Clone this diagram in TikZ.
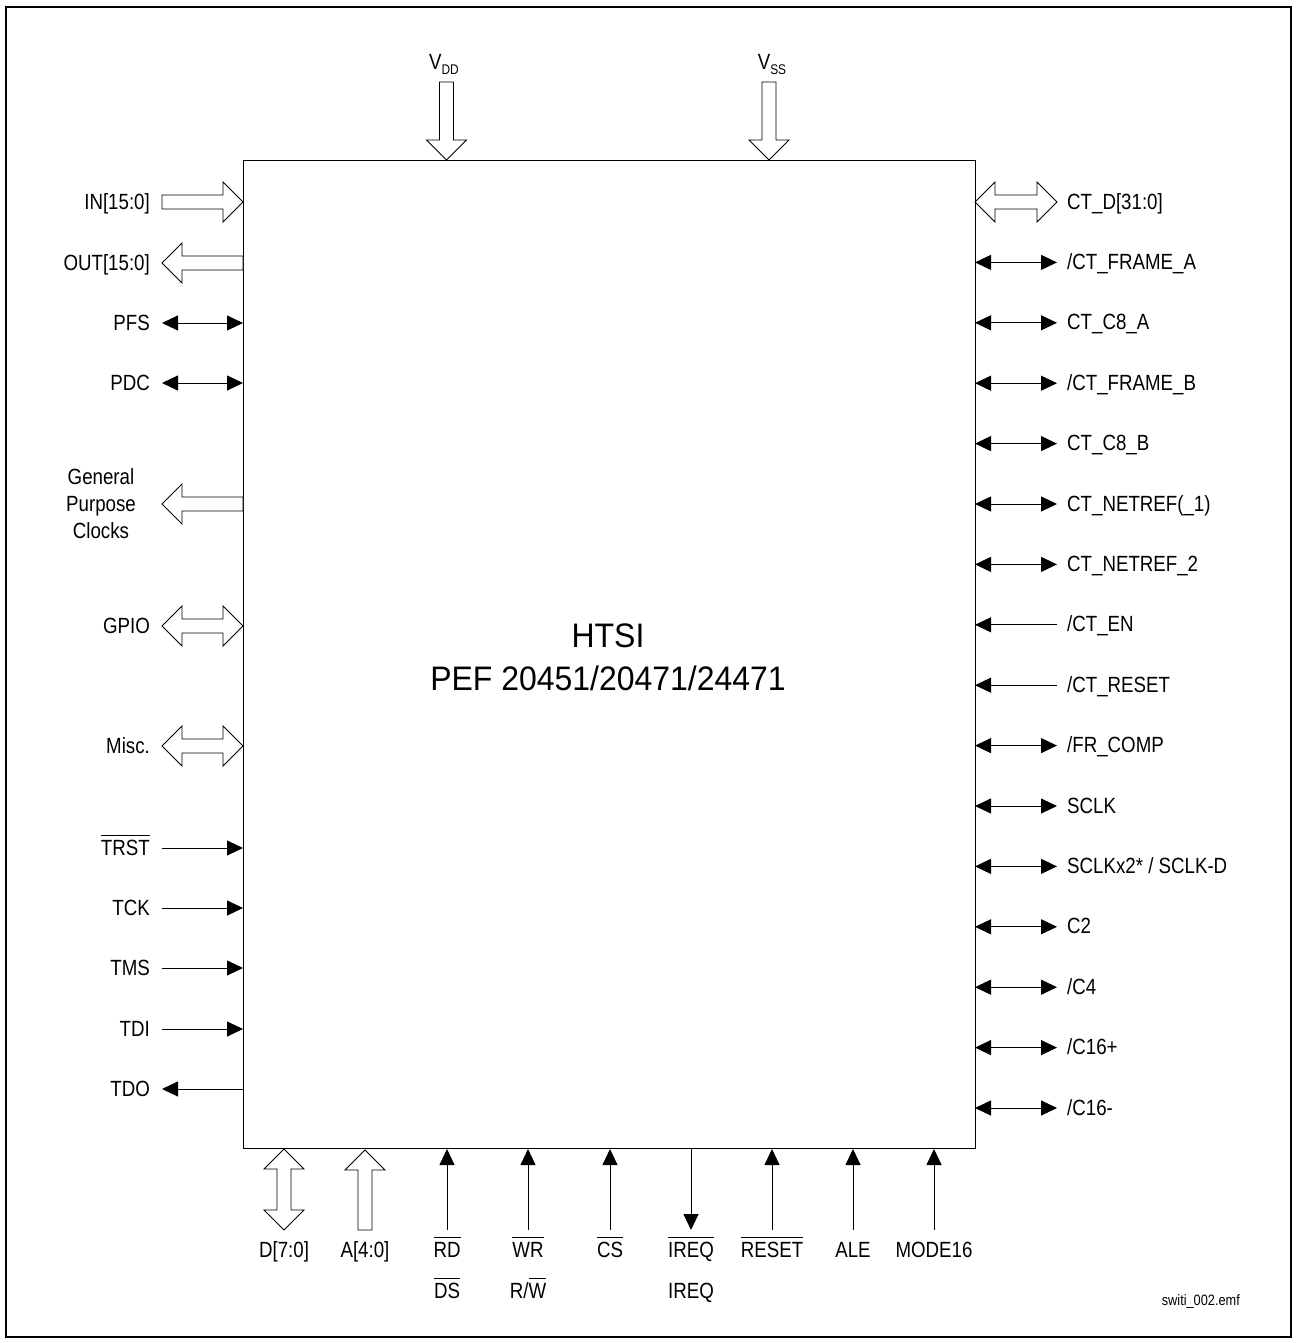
\documentclass[tikz,border=0pt]{standalone}
\usepackage{fontspec}
\setmainfont{Liberation Sans}[FakeStretch=0.85]
\newfontfamily\bigfont{Liberation Sans}[FakeStretch=0.94]
\usetikzlibrary{arrows.meta}
\newcommand\ovl[1]{\vbox{\hrule height 1.1pt\kern 4pt\hbox{#1}}}
\tikzset{
  hollow/.style={draw=black, line width=0.9pt, fill=white, line join=miter},
  pics/hone/.style={code={\draw[hollow] (0,-7) -- (#1-20,-7) -- (#1-20,-20) -- (#1,0) -- (#1-20,20) -- (#1-20,7) -- (0,7) -- cycle;}},
  pics/htwo/.style={code={\draw[hollow] (0,0) -- (20,-20) -- (20,-7) -- (#1-20,-7) -- (#1-20,-20) -- (#1,0) -- (#1-20,20) -- (#1-20,7) -- (20,7) -- (20,20) -- cycle;}},
  sig/.style={line width=0.9pt, -{Triangle[length=16pt,width=15pt]}},
  bidir/.style={line width=0.9pt, {Triangle[length=16pt,width=15pt]}-{Triangle[length=16pt,width=15pt]}},
  lbl/.style={inner sep=0pt, font=\fontsize{22}{27}\selectfont},
  lleft/.style={lbl, anchor=base east},
  lright/.style={lbl, anchor=base west},
  lbot/.style={lbl, anchor=base},
}
\begin{document}
\begin{tikzpicture}[x=1pt, y=-1pt]
\useasboundingbox (0,0) rectangle (1297,1343);
\draw[line width=2.2pt] (6,7) rectangle (1291,1337);

% chip body
\node[draw, line width=0.9pt, inner sep=0pt, minimum width=732pt, minimum height=988pt, anchor=north west] (chip) at (243,160) {};
\node[inner sep=0pt, anchor=base, font=\bigfont\fontsize{34}{40}\selectfont] (t1) at (608,647) {HTSI};
\node[inner sep=0pt, anchor=base, font=\bigfont\fontsize{34}{40}\selectfont] (t2) at (608,690) {PEF 20451/20471/24471};

% top supplies
\pic[rotate=-90] at (446.5,82) {hone=78};
\pic[rotate=-90] at (769,82) {hone=78};
\node[lbl, anchor=base] (vdd) at (444,70) {V\raisebox{-5pt}{\fontsize{14}{14}\selectfont DD}};
\node[lbl, anchor=base] (vss) at (772,70) {V\raisebox{-5pt}{\fontsize{14}{14}\selectfont SS}};

% left side
\pic at (162,202) {hone=81};
\node[lleft] (lin) at (150,209) {IN[15:0]};
\pic[rotate=180] at (243,263) {hone=81};
\node[lleft] (lout) at (150,270) {OUT[15:0]};
\draw[bidir] (162,323) -- (243,323);
\node[lleft] (lpfs) at (150,330) {PFS};
\draw[bidir] (162,383) -- (243,383);
\node[lleft] (lpdc) at (150,390) {PDC};
\pic[rotate=180] at (243,504) {hone=81};
\node[lbl, align=center, anchor=base] (lgpc) at (101,538) {General\\Purpose\\Clocks};
\pic at (162,626) {htwo=81};
\node[lleft] (lgpio) at (150,633) {GPIO};
\pic at (162,746) {htwo=81};
\node[lleft] (lmisc) at (150,753) {Misc.};
\draw[sig] (162,848) -- (243,848);
\node[lleft] (ltrst) at (150,855) {\ovl{TRST}};
\draw[sig] (162,908) -- (243,908);
\node[lleft] (ltck) at (150,915) {TCK};
\draw[sig] (162,968) -- (243,968);
\node[lleft] (ltms) at (150,975) {TMS};
\draw[sig] (162,1029) -- (243,1029);
\node[lleft] (ltdi) at (150,1036) {TDI};
\draw[sig] (243,1089) -- (162,1089);
\node[lleft] (ltdo) at (150,1096) {TDO};

% right side
\pic at (975,202) {htwo=82};
\node[lright] (rctd) at (1067,209) {CT\_D[31:0]};
\foreach \i/\txt/\kind in {1/{/CT\_FRAME\_A}/b, 2/{CT\_C8\_A}/b, 3/{/CT\_FRAME\_B}/b, 4/{CT\_C8\_B}/b,
  5/{CT\_NETREF(\_1)}/b, 6/{CT\_NETREF\_2}/b, 7/{/CT\_EN}/i, 8/{/CT\_RESET}/i, 9/{/FR\_COMP}/b,
  10/{SCLK}/b, 11/{SCLKx2* / SCLK-D}/b, 12/{C2}/b, 13/{/C4}/b, 14/{/C16+}/b, 15/{/C16-}/b}{
  \pgfmathsetmacro\yy{202+60.4*\i}
  \if b\kind
    \draw[bidir] (975,\yy) -- (1057,\yy);
  \else
    \draw[sig] (1057,\yy) -- (975,\yy);
  \fi
  \node[lright] (r\i) at (1067,\yy+7) {\txt};
}

% bottom side
\pic[rotate=-90] at (284,1149) {htwo=81};
\node[lbot] (bd) at (284,1257) {D[7:0]};
\pic[rotate=90] at (365,1230) {hone=80};
\node[lbot] (ba) at (365,1257) {A[4:0]};
\draw[sig] (447,1230) -- (447,1149);
\node[lbot] (brd) at (447,1257) {\ovl{RD}};
\node[lbot] (bds) at (447,1298) {\ovl{DS}};
\draw[sig] (528,1230) -- (528,1149);
\node[lbot] (bwr) at (528,1257) {\ovl{WR}};
\node[lbot] (brw) at (528,1298) {R/\ovl{W}};
\draw[sig] (610,1230) -- (610,1149);
\node[lbot] (bcs) at (610,1257) {\ovl{CS}};
\draw[sig] (691,1149) -- (691,1230);
\node[lbot] (bireqn) at (691,1257) {\ovl{IREQ}};
\node[lbot] (bireq) at (691,1298) {IREQ};
\draw[sig] (772,1230) -- (772,1149);
\node[lbot] (brst) at (772,1257) {\ovl{RESET}};
\draw[sig] (853,1230) -- (853,1149);
\node[lbot] (bale) at (853,1257) {ALE};
\draw[sig] (934,1230) -- (934,1149);
\node[lbot] (bmode) at (934,1257) {MODE16};

\node[inner sep=0pt, anchor=base east, font=\fontsize{15}{17}\selectfont] (fname) at (1240,1305) {switi\_002.emf};
\end{tikzpicture}
\end{document}
